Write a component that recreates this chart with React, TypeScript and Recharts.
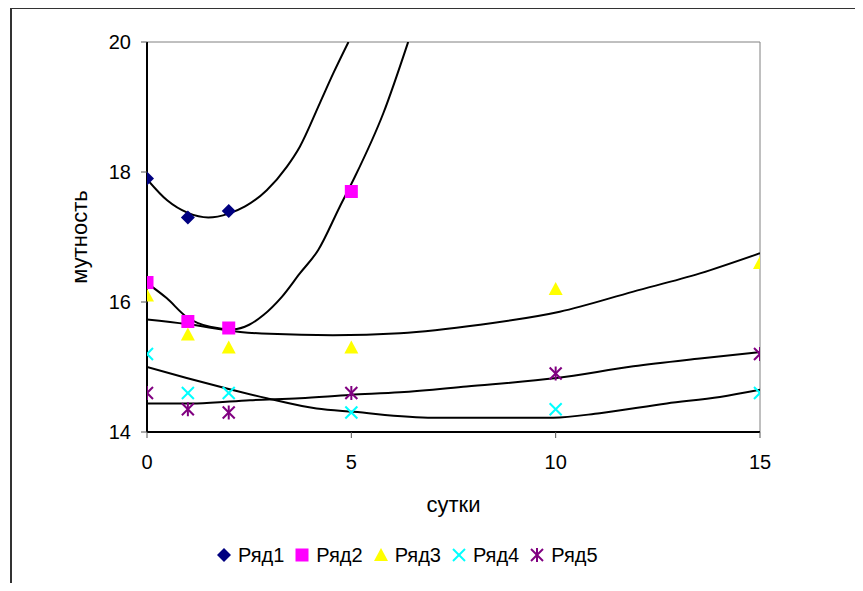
import React from 'react';
import { ComposedChart, Scatter, Line, XAxis, YAxis, ReferenceLine, Label } from 'recharts';

// сутки (days) of each measurement
const days = [0, 1, 2, 5, 10, 15];

// мутность per series
const row1 = [17.9, 17.3, 17.4];
const row2 = [16.3, 15.7, 15.6, 17.7];
const row3 = [16.1, 15.5, 15.3, 15.3, 16.2, 16.6];
const row4 = [15.2, 14.6, 14.6, 14.3, 14.35, 14.6];
const row5 = [14.6, 14.35, 14.3, 14.6, 14.9, 15.2];

// trend lines (x, y pairs)
const trend1X = [0, 0.5, 1, 1.5, 2, 2.4, 2.93, 3.42, 3.74, 4.23, 4.56, 4.93];
const trend1Y = [17.89, 17.56, 17.37, 17.3, 17.36, 17.47, 17.72, 18.08, 18.39, 19.06, 19.52, 20];
const trend2X = [0, 0.48, 0.97, 1.54, 2.11, 2.5, 2.85, 3.3, 3.74, 4.19, 4.72, 5.09, 5.78, 6.39];
const trend2Y = [16.29, 16.06, 15.77, 15.62, 15.58, 15.65, 15.8, 16.08, 16.44, 16.8, 17.47, 17.93, 18.9, 20];
const trend3X = [0, 0.97, 2.28, 3, 4.55, 6.19, 8.15, 10.1, 11.9, 13.53, 15];
const trend3Y = [15.73, 15.66, 15.54, 15.51, 15.49, 15.52, 15.65, 15.85, 16.16, 16.44, 16.75];
const trend4X = [0, 0.97, 1.95, 2.93, 4.15, 5.05, 7, 9.94, 11.08, 12.72, 14.02, 15];
const trend4Y = [15.0, 14.83, 14.67, 14.52, 14.36, 14.31, 14.22, 14.22, 14.29, 14.44, 14.54, 14.65];
const trend5X = [0, 1.22, 2.52, 3.74, 4.97, 6.19, 7.82, 10.02, 11.9, 13.53, 15];
const trend5Y = [14.44, 14.44, 14.49, 14.52, 14.57, 14.61, 14.7, 14.83, 15.01, 15.13, 15.23];

const xTicks = [0, 5, 10, 15];
const yTicks = [14, 16, 18, 20];

const names = ['Ряд1', 'Ряд2', 'Ряд3', 'Ряд4', 'Ряд5'];
const colors = ['#000080', '#FF00FF', '#FFFF00', '#00FFFF', '#800080'];

const pts = (ys: number[]) => ys.map((y, i) => ({ x: days[i], y }));
const curve = (xs: number[], ys: number[]) => xs.map((x, i) => ({ x, y: ys[i] }));

const seriesData = [row1, row2, row3, row4, row5].map(pts);
const trendData = [
  curve(trend1X, trend1Y),
  curve(trend2X, trend2Y),
  curve(trend3X, trend3Y),
  curve(trend4X, trend4Y),
  curve(trend5X, trend5Y),
];

const FONT = '"Liberation Sans", Arial, sans-serif';

const Diamond = ({ cx, cy, color }: any) => (
  <polygon points={`${cx},${cy - 7} ${cx + 7},${cy} ${cx},${cy + 7} ${cx - 7},${cy}`} fill={color} />
);
const Square = ({ cx, cy, color }: any) => <rect x={cx - 6.5} y={cy - 6.5} width={13} height={13} fill={color} />;
const Triangle = ({ cx, cy, color }: any) => (
  <polygon points={`${cx},${cy - 7} ${cx + 7},${cy + 6} ${cx - 7},${cy + 6}`} fill={color} />
);
const Cross = ({ cx, cy, color }: any) => (
  <g stroke={color} strokeWidth={2}>
    <line x1={cx - 6} y1={cy - 6} x2={cx + 6} y2={cy + 6} />
    <line x1={cx - 6} y1={cy + 6} x2={cx + 6} y2={cy - 6} />
  </g>
);
const Star = ({ cx, cy, color }: any) => (
  <g stroke={color} strokeWidth={2}>
    <line x1={cx - 6} y1={cy - 6} x2={cx + 6} y2={cy + 6} />
    <line x1={cx - 6} y1={cy + 6} x2={cx + 6} y2={cy - 6} />
    <line x1={cx} y1={cy - 7} x2={cx} y2={cy + 7} />
  </g>
);

const markers = [Diamond, Square, Triangle, Cross, Star];
const shapes = markers.map((M, i) => (p: any) => <M cx={p.cx} cy={p.cy} color={colors[i]} />);

const tick = { fill: '#000', fontSize: 20, fontFamily: FONT };
const titleStyle = { fill: '#000', fontSize: 22, fontFamily: FONT };

const Chart: React.FC = () => (
  <ComposedChart width={863} height={591} margin={{ top: 42, right: 103, bottom: 79, left: 11 }}>
    <XAxis
      type="number"
      dataKey="x"
      domain={[0, 15]}
      ticks={xTicks}
      allowDataOverflow
      height={80}
      tick={tick}
      tickSize={6}
      tickMargin={17}
      axisLine={{ stroke: '#000', strokeWidth: 2 }}
      tickLine={{ stroke: '#555' }}
    >
      <Label value="сутки" position="insideBottom" offset={0} style={titleStyle} />
    </XAxis>
    <YAxis
      type="number"
      dataKey="y"
      domain={[14, 20]}
      ticks={yTicks}
      allowDataOverflow
      width={136}
      tick={tick}
      tickSize={6}
      tickMargin={10}
      axisLine={{ stroke: '#000', strokeWidth: 2 }}
      tickLine={{ stroke: '#555' }}
    >
      <Label value="мутность" angle={-90} position="center" style={titleStyle} />
    </YAxis>
    <ReferenceLine y={20} stroke="#808080" />
    <ReferenceLine x={15} stroke="#808080" />
    {trendData.map((t, i) => (
      <Line
        key={'t' + i}
        data={t}
        dataKey="y"
        type="monotone"
        stroke="#000"
        strokeWidth={2}
        dot={false}
        activeDot={false}
        legendType="none"
        isAnimationActive={false}
      />
    ))}
    {seriesData.map((s, i) => (
      <Scatter
        key={names[i]}
        name={names[i]}
        data={s}
        fill={colors[i]}
        shape={shapes[i]}
        isAnimationActive={false}
      />
    ))}
  </ComposedChart>
);

const App: React.FC = () => {
  return (
    <div style={{ position: 'relative', fontFamily: FONT, height: 575 }}>
      <div
        style={{
          position: 'absolute',
          left: 2,
          top: -1,
          width: 860,
          height: 600,
          borderTop: '2px solid #333',
          borderLeft: '2px solid #333',
        }}
      />
      <div style={{ position: 'absolute', left: -8, top: -8 }}>
        <Chart />
      </div>
      <div
        style={{
          position: 'absolute',
          left: 208,
          top: 535,
          display: 'flex',
          alignItems: 'center',
          fontSize: 20,
          lineHeight: '24px',
          color: '#000',
        }}
      >
        {names.map((n, i) => {
          const M = markers[i];
          return (
            <div key={n} style={{ display: 'flex', alignItems: 'center', marginRight: 10 }}>
              <svg width={16} height={16} style={{ marginRight: 6 }}>
                <M cx={8} cy={8} color={colors[i]} />
              </svg>
              <span>{n}</span>
            </div>
          );
        })}
      </div>
    </div>
  );
};

export default App;
